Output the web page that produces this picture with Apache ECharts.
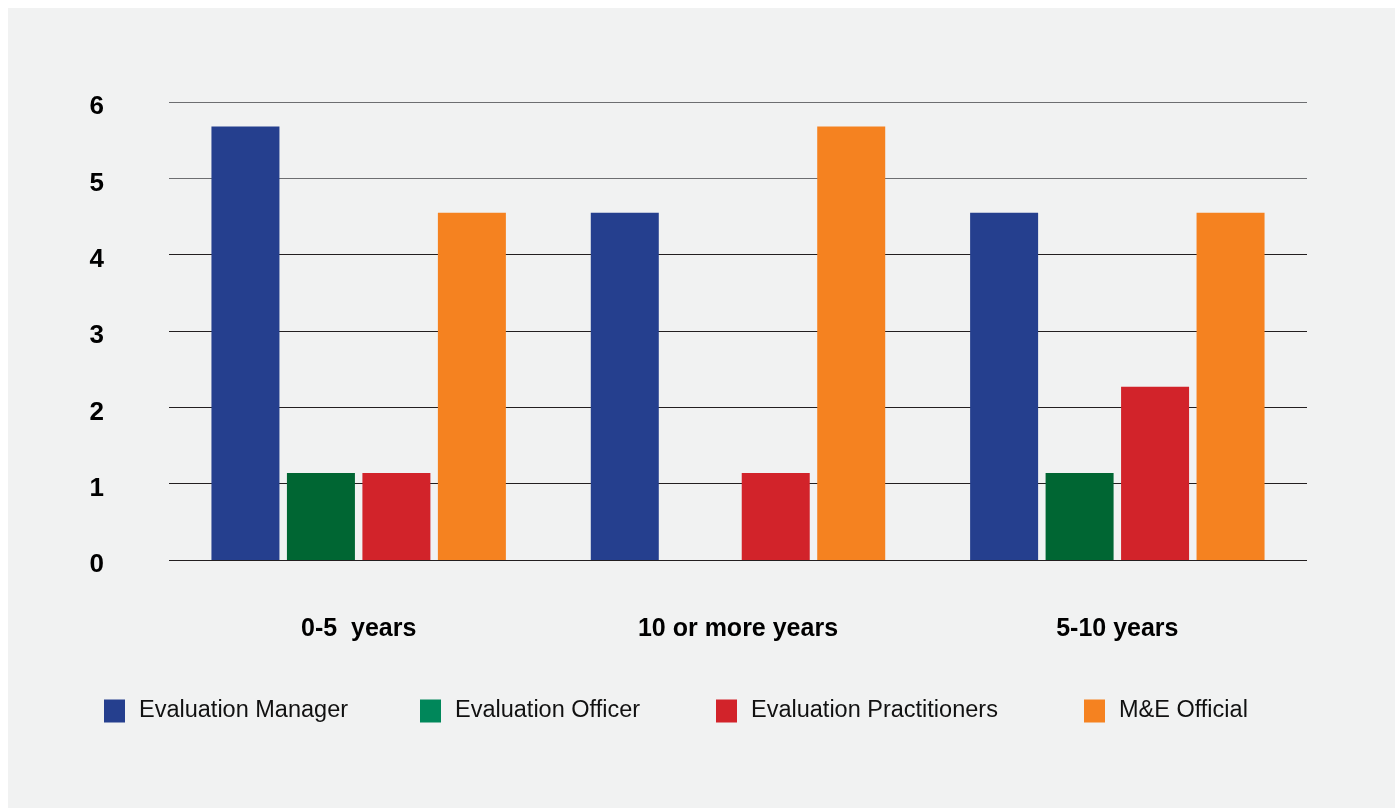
<!DOCTYPE html>
<html>
<head>
<meta charset="utf-8">
<script src="https://cdn.jsdelivr.net/npm/echarts@6/dist/echarts.min.js"></script>
<style>
  html, body { margin: 0; padding: 0; background: #ffffff; }
  #chart { width: 1395px; height: 808px; }
</style>
</head>
<body>
<div id="chart"></div>
<script>
// Years of experience by role
const categories = ['0-5  years', '10 or more years', '5-10 years'];
const seriesNames = ['Evaluation Manager', 'Evaluation Officer', 'Evaluation Practitioners', 'M&E Official'];
const evaluationManager = [5.68, 4.55, 4.55];
const evaluationOfficer = [1.14, null, 1.14];
const evaluationPractitioners = [1.14, 1.14, 2.27];
const meOfficial = [4.55, 5.68, 4.55];
const yTicks = [0, 1, 2, 3, 4, 5, 6];

const barColors = ['#253f8e', '#006633', '#d2232a', '#f58220'];
const legendColors = ['#253f8e', '#00875a', '#d2232a', '#f58220'];
const legendLefts = [104, 420, 716, 1084];
const seriesValues = [evaluationManager, evaluationOfficer, evaluationPractitioners, meOfficial];

const font = '"Liberation Sans", Arial, sans-serif';
const chart = echarts.init(document.getElementById('chart'), null, { renderer: 'canvas' });

chart.setOption({
  backgroundColor: '#ffffff',
  animation: false,
  graphic: [{
    type: 'rect', z: -10, silent: true,
    shape: { x: 8, y: 8, width: 1395 - 8, height: 808 - 8 },
    style: { fill: '#f1f2f2' }
  }],
  grid: { left: 169, right: 88, top: 102, bottom: 248, containLabel: false },
  legend: seriesNames.map((name, i) => ({
    left: legendLefts[i],
    top: 699,
    padding: 0,
    itemWidth: 21,
    itemHeight: 23,
    icon: 'rect',
    selectedMode: false,
    data: [{ name: name, itemStyle: { color: legendColors[i] } }],
    textStyle: {
      fontFamily: font, fontSize: 23.5, color: '#111111',
      padding: [0, 0, 0, 9], verticalAlign: 'top', lineHeight: 6
    }
  })),
  xAxis: {
    type: 'category',
    data: categories,
    axisLine: { show: false },
    axisTick: { show: false },
    axisLabel: { margin: 57, fontFamily: font, fontWeight: 'bold', fontSize: 25, color: '#000000' }
  },
  yAxis: {
    type: 'value',
    min: yTicks[0],
    max: yTicks[yTicks.length - 1],
    interval: 1,
    axisLine: { show: false },
    axisTick: { show: false },
    axisLabel: {
      margin: 65, fontFamily: font, fontWeight: 'bold', fontSize: 26, color: '#000000',
      verticalAlign: 'top', lineHeight: 10
    },
    splitLine: {
      show: true,
      lineStyle: {
        width: 1.2,
        color: ['#231f20', '#231f20', '#231f20', '#231f20', '#231f20', '#6d6e71', '#6d6e71']
      }
    }
  },
  series: seriesNames.map((name, i) => ({
    name: name,
    type: 'bar',
    data: seriesValues[i],
    barWidth: 68,
    barGap: '11%',
    itemStyle: { color: barColors[i] }
  }))
});
</script>
</body>
</html>
